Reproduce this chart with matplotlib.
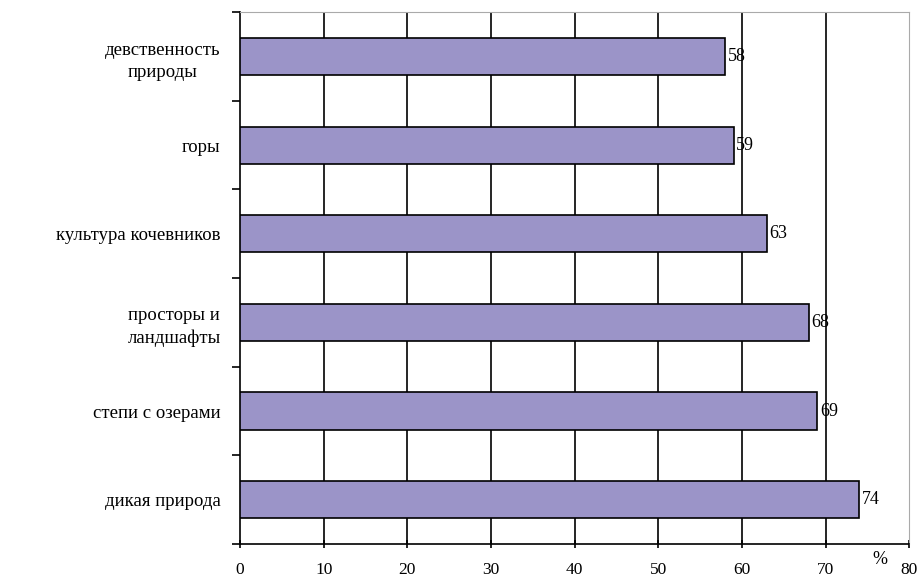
import matplotlib.pyplot as plt
import numpy as np

# categories listed from top to bottom
categories = ['девственность\nприроды', 'горы', 'культура кочевников',
              'просторы и\nландшафты', 'степи с озерами', 'дикая природа']
values = [58, 59, 63, 68, 69, 74]
x_ticks = [0, 10, 20, 30, 40, 50, 60, 70, 80]

plt.rcParams['font.family'] = ['Liberation Serif', 'DejaVu Serif']

fig = plt.figure(figsize=(9.22, 5.80), dpi=100)
ax = fig.add_axes([0.2603, 0.062, 0.726, 0.917])

y = np.arange(len(categories))[::-1]
ax.barh(y, values, height=0.42, color='#9b94c8', edgecolor='black', linewidth=1.2, zorder=3)

for yi, v in zip(y, values):
    ax.text(v + 0.3, yi, str(v), va='center', ha='left', fontsize=13, zorder=4)

ax.set_xlim(0, 80)
ax.set_ylim(-0.5, len(categories) - 0.5)
ax.set_xticks(x_ticks)
ax.set_xticklabels([str(t) for t in x_ticks], fontsize=12.5)

# category labels centered on bars, ticks at the band boundaries
ax.set_yticks(y)
ax.set_yticklabels(categories, fontsize=13.5, linespacing=1.4, multialignment='center')
ax.tick_params(axis='y', length=0, pad=14)
ax.set_yticks(np.arange(-0.5, len(categories), 1), minor=True)
ax.tick_params(axis='y', which='minor', length=6, width=1.2, direction='out')
ax.tick_params(axis='x', length=6, width=1.2, direction='inout', pad=10)

for t in x_ticks[1:-1]:
    ax.axvline(t, color='black', linewidth=1.2, zorder=1)

ax.spines['left'].set_linewidth(1.2)
ax.spines['bottom'].set_linewidth(1.2)
ax.spines['top'].set_color('#aaaaaa')
ax.spines['right'].set_color('#aaaaaa')

ax.text(76.5, -0.68, '%', ha='center', va='center', fontsize=13)

fig.savefig('out.png', dpi=100)
